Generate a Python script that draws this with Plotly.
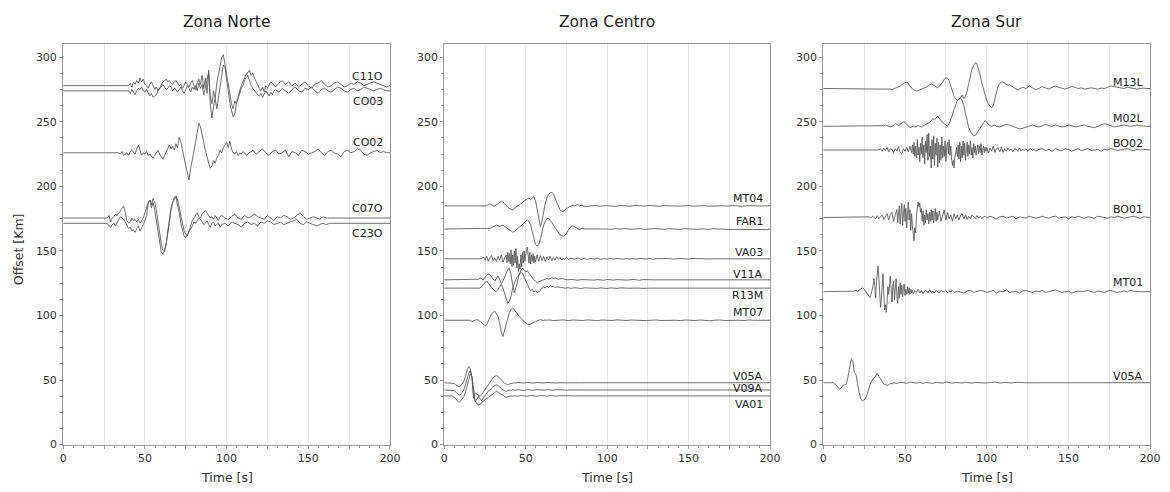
import plotly.graph_objects as go

# ---------------------------------------------------------------
# Record sections: each station is drawn at its offset (km) with the
# seismogram deviation (in km-equivalent units) added on top.
# Each record: base offset, onset time (s) and sampled chunks
# given as (sample step in s, [deviations]).  Before the onset and
# after the last sample the trace stays flat at its offset.
# ---------------------------------------------------------------

ZONE_TITLES = ["Zona Norte", "Zona Centro", "Zona Sur"]
X_TICKS = [0, 25, 50, 75, 100, 125, 150, 175, 200]
X_TICK_TEXT = ["0", "", "50", "", "100", "", "150", "", "200"]
Y_TICKS = [0, 50, 100, 150, 200, 250, 300]

# ---------------- Zona Norte ----------------
C11O_BASE, C11O_ONSET, C11O_LABEL_Y = 278.0, 40, 285
C11O_CHUNKS = [
    (1, [0, 2, -1, 3, 1, 4, 2, 6, 3, 5,
         1, 0, -2, 1, 3, 0, -3, -1, -4, -2,
         1, 3, 4, 5, 3, 4, 2, 1, 3, 4,
         2, 0, 1, -2, 0, 3, 1, -1, 2, 4,
         0, -3, 2, 5, 1, 8, -2, 6, -6, 12,
         -8, -14, -4, -10, 2, 8, 15, 22, 24, 16,
         8, 2, -8, -14, -18, -12, -14, -8, -4, 0,
         3, 6, 9, 10, 12, 8, 10, 6, 3, 0,
         -2, -4, -1, -5, 0, -2, 1, 3, 2, 0]),
    (2, [-1, 2, 4, 1, 3, 0, 2, -1, 1, 3,
         0, -2, 1, 2, 4, 1, -1, 0, 2, 3,
         1, -1, 0, 2, 1, 3, 2, 0, 1, 2,
         3, 2, 1, 0, -1]),
]

CO03_BASE, CO03_ONSET, CO03_LABEL_Y = 274.0, 40, 266
CO03_CHUNKS = [
    (1, [0, -2, 1, -1, -3, 0, 2, 1, 3, 0,
         -1, 1, -2, -4, -2, -5, -4, -3, 0, 2,
         4, 5, 3, 1, 2, 4, 3, 0, 2, 1,
         -1, 1, 3, 0, -2, 1, 4, 2, -1, 3,
         1, 4, 0, 6, 2, 5, -3, 3, 8, 14,
         -10, -21, -12, -6, -14, -6, 4, 12, 20, 18,
         10, 0, -10, -16, -20, -18, -10, -6, -2, 2,
         4, 8, 10, 12, 8, 4, 2, 0, -1, -3,
         -4, -2, -5, -3, 0, -2, -4, -1, -3, 0]),
    (2, [1, -1, 2, 0, -2, 1, 3, 0, -1, 2,
         1, 3, 0, -2, 1, 2, 0, -1, 1, 3,
         2, 0, -1, 1, 2, 0, 1, 3, 2, 1,
         0, 1, 2, 1, 0]),
]

CO02_BASE, CO02_ONSET, CO02_LABEL_Y = 226.0, 34, 234
CO02_CHUNKS = [
    (1, [0, -1, 1, -2, -1, 0, -2, 1, 2, 0,
         -1, 3, 6, 2, -2, 0, -1, 1, -2, -1,
         -3, -4, -2, 0, 2, -1, -3, -5, -2, 1,
         4, 6, 3, 5, 2, 7, 4, 12, 8, 3,
         -4, -10, -16, -21, -12, -6, 2, 8, 16, 23,
         20, 15, 8, 2, -4, -8, -12, -10, -6, -8,
         -4, -2, 2, 0, 4, 6, 8, 4, 9, 3,
         0, -1, 1, -2, 0, -1, 1, 0, -2, -1]),
    (2, [0, 2, -1, 1, 3, 0, -2, 1, 2, -1,
         0, 2, -3, 1, 0, -2, 2, 1, -1, 0,
         1, 3, 0, -2, 1, 2, 0, -1, -3, 1,
         2, 0, 1, 3, 2, -1, -2, 0, 1, 2,
         0, 1, 0]),
]

C07O_BASE, C07O_ONSET, C07O_LABEL_Y = 175.5, 27, 182.5
C07O_CHUNKS = [
    (1, [0, 2, -3, 0, 1, 3, 2, 4, 5, 8,
         9, 4, -2, -4, -3, 0, -2, -1, -3, -1,
         -4, -2, 0, 4, 8, 12, 14, 10, 15, 12,
         6, -4, -12, -20, -25, -26, -20, -10, 0, 8,
         12, 16, 17, 14, 8, 2, -6, -10, -12, -14,
         -10, -6, -2, 0, 2, 4, 1, 0, 3, 5,
         6, 4, 2, 0, 1, -1, 2, 0, -2, 1]),
    (2, [2, 0, -1, 1, 3, 0, -1, 2, 0, 1,
         3, 1, 0, -1, 2, 0, -2, 1, 0, 2,
         1, -1, 0, 2, 4, 1, -1, 0, 1, 0,
         -1, 1, 0, 0]),
]

C23O_BASE, C23O_ONSET, C23O_LABEL_Y = 171.4, 27, 163.7
C23O_CHUNKS = [
    (1, [0, -2, -3, -1, 0, -2, 1, 3, 5, 4,
         3, 1, -2, -4, -3, -6, -5, -7, -4, -2,
         -6, -4, -1, 2, 6, 15, 18, 12, 16, 10,
         2, -8, -16, -22, -24, -21, -16, -6, 2, 10,
         16, 19, 20, 15, 8, 0, -6, -10, -11, -9,
         -6, -4, -2, 1, 0, 2, 4, 3, 1, -1,
         0, 2, -1, -3, 0, 1, -2, -1, 0, -3]),
    (2, [-1, 0, -2, 1, 0, -1, -3, 0, 1, -1,
         0, -2, 1, 0, 2, 1, -1, 0, 1, -1,
         0, 1, 2, 3, 0, -1, 1, 0, -1, -2,
         -1, 0, -1, 0, 0, 0]),
]

# ---------------- Zona Centro ----------------
MT04_BASE, MT04_ONSET, MT04_LABEL_Y = 184.9, 24, 190.5
MT04_CHUNKS = [
    (1, [0, 0.5, 0, 1, 1.5, 1, 0, 0, 1, 2,
         3, 3.5, 3, 1.5, 0, -1, -2, -2.5, -3, -2,
         -1, 0, 1, 2, 3, 4, 5, 5.5, 6, 5,
         6, 7, 4, -2, -10, -16, -12, -4, 2, 6,
         9, 10, 10.5, 9, 6, 2, -1, -3, -4, -4.5,
         -3, -2, -1, -0.5, 0, 0.5, 0, 0.5, 1, 0]),
    (3, [0.5, -0.5, 0, 0.3, -0.3, 0.2, 0, -0.4, 0.3, 0,
         -0.3, 0.4, 0, -0.2, 0.3, 0, -0.3, 0.2, 0, 0.3,
         -0.2, 0, 0.3, -0.3, 0, 0.2, -0.2, 0, 0.3, 0,
         -0.2, 0.2, 0, -0.3, 0.2, 0, 0.2, -0.1, 0]),
]

FAR1_BASE, FAR1_ONSET, FAR1_LABEL_Y = 167.0, 27, 172.6
FAR1_CHUNKS = [
    (1, [0, 0.5, 1, 2, 2.5, 3, 2.5, 2, 2.5, 3,
         2, 1, 0, -1, -2, -2.5, -2, -1, 0, 1,
         2, 3, 4.5, 6, 7, 6, 3, -2, -8, -12,
         -13, -12, -8, -2, 3, 6, 8, 8.5, 7, 5,
         3, 1, -1, -3, -4.5, -5, -5.5, -5, -3.5, -1,
         0.5, 2, 2.5, 2, 1, 0, -0.5, 0, 0.5, 0]),
    (3, [0, 0.3, -0.2, 0.2, 0, -0.3, 0.2, 0, 0.3, -0.2,
         0, 0.2, -0.3, 0, 0.3, 0, -0.2, 0.2, 0, -0.3,
         0.2, 0, 0.3, -0.2, 0, -0.3, 0.2, 0, -0.4, -0.6,
         -0.5, -0.3, -0.5, -0.4, -0.5, -0.4, -0.5, -0.5]),
]

VA03_BASE, VA03_ONSET, VA03_LABEL_Y = 143.9, 23, 149
VA03_CHUNKS = [
    (1, [0, 1.5, -1, 2, -2, 1, 2.5, -1.5, 0.5, -2, 2, -1, 3, -2.5, 1]),
    (0.5, [3, -3, 5, -2, 4, -4, 7, -6, 3, -5,
           6, -3, 8, -7, 2, -10, -4, -8, 3, -6,
           5, -3, 6, -2, 4, 7, 9, 2, -3, 5,
           -4, 3, -2, 4, -3, 2]),
    (1, [-2.5, 3, -2, 2.5, -1.5, 2, -2, 1.5, -1, 2,
         -1.5, 1, -1, 1.5, -0.5, 1, -1, 0.5, -0.5, 1]),
    (2, [-0.5, 0.5, -0.3, 0.6, -0.4, 0.3, -0.5, 0.4, -0.2, 0.5,
         -0.4, 0.2, -0.3, 0.4, -0.2, 0.3, 0, -0.3, 0.3, -0.2,
         0.2, -0.3, 0.4, 0, -0.2, 0.3, -0.3, 0.1, 0.2, -0.2,
         0, 0.3, -0.2, 0.1, -0.1, 0.2, 0, -0.2, 0.2, 0,
         -0.1, 0.1, 0, 0.2, -0.1, 0, 0.1, -0.1, 0, 0.1,
         0, -0.1, 0.1, 0, 0, 0.1, -0.1, 0, 0, 0, 0, 0]),
]

V11A_BASE, V11A_ONSET, V11A_LABEL_Y = 127.6, 20, 132
V11A_CHUNKS = [
    (1, [0, 0.5, 1.5, 1, 0, 2, 3.5, 4.5, 4, 2,
         0, -1, 1, 3, 0, -3, -1, 2, 5, 8,
         9, 4, -4, -10, -6, 0, 4, 7, 9, 8,
         6, 7, 5, 4, 2, 0, -1, -2, -1.5, -1,
         -0.5, 0, 0.5, 1, 0.5, 1, 1.5, 1, 1.5, 1]),
    (2, [0.5, 1, 0.5, 0, 0.3, 0, -0.3, 0.2, 0, 0.3,
         0, -0.2, 0.2, 0, -0.3, 0.3, 0, -0.2, 0.2, 0,
         0.2, -0.2, 0, 0.3, 0, -0.3, 0.2, 0, 0.1, 0]),
]

R13M_BASE, R13M_ONSET, R13M_LABEL_Y = 121.2, 20, 115.4
R13M_CHUNKS = [
    (1, [0, 0.5, 0, 1.5, 3, 4.5, 5.5, 4, 2, 0,
         -1, -2, -2.5, -1, 1, 3, 0, -4, -8, -12,
         -10, -6, 0, 4, 7, 9, 11, 12, 11.5, 9,
         6, 3, 0, -2, -1, -3, -2, -3.5, -3, -1,
         0, 1, 0, 1.5, 0.5, 2, 1, 1.5, 0.5, 1]),
    (2, [1, 0.5, 0, 0.3, -0.2, 0.3, 0, -0.3, 0.2, 0,
         0.3, 0, -0.2, 0.2, 0, -0.3, 0.2, 0, -0.2, 0.2,
         0, 0.2, -0.1, 0, 0.2, 0, -0.2, 0.1, 0, 0]),
]

MT07_BASE, MT07_ONSET, MT07_LABEL_Y = 96.3, 14, 102
MT07_CHUNKS = [
    (1, [0, -0.5, 0, -1, -0.5, 0, 0.5, 0, -1, -2,
         -3, -4, -3.5, -1, 2, 5, 6, 7, 5, 3,
         -2, -9, -12.5, -8, -2, 3, 6, 8.5, 9.5, 8,
         6, 4.5, 3, 1.5, 0, -1, -2, -3, -3.5, -3,
         -2, -1.5, -1, -0.5, 0, 0.5, 0, -0.3, 0.3, 0]),
    (3, [0.3, -0.2, 0, 0.3, -0.3, 0.2, 0, -0.2, 0.3, 0,
         -0.3, 0.2, 0, -0.2, 0.3, 0, -0.2, 0.2, 0, 0.3,
         -0.3, 0, 0.2, -0.2, 0, 0.3, 0, -0.3, 0.2, 0,
         -0.2, 0.2, 0, -0.4, 0, 0.2, -0.2, 0, 0.3, 0,
         -0.2, 0.2, 0, 0]),
]

V05A_C_BASE, V05A_C_ONSET, V05A_C_LABEL_Y = 47.9, 5, 52.5
V05A_C_CHUNKS = [
    (1, [0, -0.5, -1.5, -2.5, -3, -2.5, -1, 1, 5, 10,
         12.5, 11, 3, -12, -8, -9, -10, -10.5, -9, -7,
         -5, -3, -1, 1, 2.5, 4, 5, 5.5, 5, 3.5,
         2, 0.5, -0.5, -1, -1.5, -1, -0.5, -0.5, 0, -0.3]),
    (2, [0.3, 0, -0.2, 0.3, 0, -0.3, 0.2, 0, -0.2, 0.2,
         0, 0.2, -0.2, 0, 0.2, -0.1, 0, 0.1, 0, 0]),
]

V09A_BASE, V09A_ONSET, V09A_LABEL_Y = 42.3, 5, 43.3
V09A_CHUNKS = [
    (1, [0, -0.5, -1.5, -3, -4, -3.5, -2, 0, 4, 9,
         13, 15, 10, -4, -9, -7, -5, -7, -8, -6,
         -4, -2.5, -1, 0, 1.5, 2.5, 3.5, 4, 3.5, 2,
         1, 0, -0.5, -1, -0.5, 0, -0.3, 0.2, 0, -0.2]),
    (2, [0.2, 0, -0.3, 0.2, 0, -0.2, 0.3, 0, -0.2, 0.2,
         0, -0.2, 0.2, 0, 0.1, -0.1, 0, 0.1, 0, 0]),
]

VA01_BASE, VA01_ONSET, VA01_LABEL_Y = 37.7, 5, 31.3
VA01_CHUNKS = [
    (1, [0, -1, -2.5, -4, -5, -4, -2.5, -0.5, 3, 8,
         12, 17, 15, 5, -4, -6, -7, -6.5, -5, -4,
         -3, -2, -1, 0, 1, 2, 3, 3.5, 3, 2,
         1, 0, -0.5, -1, -0.5, -0.3, 0, -0.3, 0.3, 0]),
    (2, [-0.3, 0.3, 0, -0.3, 0.4, 0, -0.3, 0.3, 0, -0.2,
         0.3, 0, -0.2, 0.2, 0, -0.2, 0.1, 0, 0, 0,
         0.2, -0.2, 0, 0.2, 0, -0.1, 0.1, 0, 0, 0]),
]

# ---------------- Zona Sur ----------------
M13L_BASE, M13L_ONSET, M13L_LABEL_Y = 275.8, 40, 280.4
M13L_CHUNKS = [
    (1, [0, -0.5, -1, -0.5, 0, 0.5, 1, 2, 3, 4,
         4.5, 5, 4, 2, 0, -1, -1.5, -2, -1.5, -1,
         -1, -0.5, 0, 1, 2, 3, 3.5, 3, 2, 1,
         0.5, 1.5, 3, 5, 7, 8.5, 8, 6, 2, -3,
         -6, -8, -9, -8, -7, -5, -8, -6, -2, 4,
         10, 15, 18, 20, 19, 15, 10, 4, -1, -5,
         -9, -12, -14, -15, -13, -8, -2, 2, 4, 5,
         5, 4, 3.5, 2.5, 3, 2, 1, 0.5, -0.5, -1]),
    (2, [-0.5, 1, 0, 2, 0.5, -1, 0, 1.5, 0.5, -0.5,
         1, 2, 1, 0, -0.5, 0.5, 1.5, 1, 0, 0.5,
         -0.5, 0, 0.5, 0, -0.5, 0.3, 0, 1, 2, 1.5,
         1, 0.5, 0, 1, 0.5, 0, -0.5, 0, 0.3, 0]),
]

M02L_BASE, M02L_ONSET, M02L_LABEL_Y = 246.5, 36, 252.3
M02L_CHUNKS = [
    (1, [0, 0.5, 1, 0.5, 0, -0.5, 0, 1, 2, 1.5,
         0.5, 1.5, 2.5, 3.5, 3, 1.5, 0, -1, -0.5, 0,
         -0.5, 0, 0.5, 0, -0.5, 0.5, 1, 2, 2.5, 3,
         4, 6, 5, 7, 8, 6, 4, 3, 2, 1,
         0, 2, 5, 9, 13, 17, 20, 21, 21.5, 20,
         16, 10, 4, -1, -4, -6, -7.5, -7, -5, -3,
         -1, 1, 3.5, 4.5, 3, 1.5, 0.5, 0, 0.5, 1]),
    (2, [0, -0.5, 0.5, 1.5, 1, 0, -1, -2, -1.5, -0.5,
         0.5, 1, 0, -0.5, 0.5, 1.5, 0.5, 0, 1, 0.5,
         -0.5, 0, 1, 0.5, -0.5, 0, 0.5, 1, 0, -0.5,
         -1, 0, 1, 2, 1.5, 0.5, -0.5, 0, 0.5, 1,
         0.5, 0, 0.5, 1, 0.5, 0, 0]),
]

BO02_BASE, BO02_ONSET, BO02_LABEL_Y = 228.2, 34, 233.2
BO02_CHUNKS = [
    (1, [0, 1, -1, 1.5, -0.5, 2, -1.5, 1, 0.5, -2,
         1, -1, 2.5, -2, -3, 1, -1, 2, -1.5, 3]),
    (0.5, [-2, 4, -3, 6, -5, 3, -6, 8, -4, 2,
           -9, 5, -3, 10, -6, 4, -11, 7, -2, 12,
           -8, 13, -5, 3, -14, 8, -7, 11, -12, 5,
           -4, 9, -13, 6, -10, 4, -8, 10, -6, 3,
           -5, 7, -9, 2, 6, -3, 8, -4, 3, -7,
           -12, -8, -14, -6, -3, 2, -5, 4, -7, 6,
           -9, 3, -6, 7, -4, 5, -8, 2, 6, -5,
           4, -3, 7, -4, 2, -6, 5, -2, 3, -4,
           2, 4, -3, 3, -2, 5, -4, 1, 3, -2,
           2, -1]),
    (1, [2, -2.5, 1.5, -1, 3, -2, 1, 2, -1.5, 2.5,
         -2, 1, -1, 1.5, -0.5, 1, -1.5, 1, 0.5, -1,
         1.5, -1, 0.5, -0.5, 1, -1, 0.5, 1, -0.5, 0.5]),
    (2, [-1, 0.5, 1, -0.5, 0.5, -1, 1, 0, -0.5, 1,
         0.5, -1, 0, 1, -0.5, 0.5, 1, -0.5, 0, 0.5,
         -1, 0.5, 0, 1, 0.5, -0.5, 0, 0.5, 1, 0,
         -0.5, 0.5, 0, 0.5, 0]),
]

BO01_BASE, BO01_ONSET, BO01_LABEL_Y = 175.9, 27, 182.3
BO01_CHUNKS = [
    (1, [0, 0.5, -0.5, 1, 0, -1, 1.5, -1, 0.5, 2,
         -1.5, 1, 3, -2, 2.5, 4, -3, 2]),
    (0.5, [6, -4, 3, 9, -5, 2, 11, -6, 4, 10,
           -3, 7, -8, 5, 12, -2, 6, -10, 3, -6,
           -14, -18, -8, -12, 2, 10, 12, 8, 11, 4,
           7, -3, 5, -6, 2, -4, 6, -2, 3, -5,
           4, -3, 6, -2, 5, -4, 3, 7, -3, 4]),
    (1, [-2, 5, -3, 2, 6, -2, 4, -1, 2, -3,
         3, -1, 2, -2, 1.5, 3, -1, 2, -1.5, 1,
         -1, 2, 0.5, -1, 1.5, -0.5, 1, -1, 0.5, 1]),
    (2, [-0.5, 1, 0, -1, 0.5, 1, -0.5, 0, 1, -1,
         0.5, 0, -0.5, 1, 0.5, -0.5, 0, 1, 0, -0.5,
         0.5, 1, -0.5, 0, 0.5, -1, 0.5, 0, 1, 0,
         -0.5, 0.5, 0, -0.5, 1, 0.5, 0, -0.5, 0.5, 0,
         1, 0.5, -0.5, 0, 0.5, 1, 0, -0.5, 0.5, 0]),
]

MT01_BASE, MT01_ONSET, MT01_LABEL_Y = 118.4, 18, 125.5
MT01_CHUNKS = [
    (1, [0, 0.5, 1, 0, 1.5, 2.5, 3, 2, 0, -2]),
    (0.5, [-3, -4.5, -3, -1, 2, 6, 10, 4, -5, 8,
           16, 20, 10, -4, -12, -6, 8, 14, -2, -14,
           -10, -16, -8, 4, -2, 10, 12, 2, -8, 4,
           8, -6, 3, 10, -3, -9, 4, -5, 7, -2,
           5, -4, 3, 6, -3, 2, -2, 4, -1, 3,
           -2, 2, -1, 1]),
    (1, [-1.5, 1, -0.5, 2, -1, 1, -1.5, 0.5, 1, -1,
         1.5, -0.5, 0.5, -1, 1, 0, -1, 1, 0.5, -0.5,
         1, -1, 0.5, 0, 1]),
    (2, [-0.5, 0.5, 0, -1, 0.5, 1, -0.5, 0, 1, 0.5,
         -0.5, 0, 1, -1, 0.5, 0, 1.5, -0.5, 0, 0.5,
         -1, 0.5, 1, 0, -0.5, 0.5, 0, 1, -0.5, 0,
         0.5, 1.5, 0.5, -0.5, 0, 0.5, -1, 0, 0.5, 0,
         0.5, 1, 0, -0.5, 0.5, 0, -0.5, 0.5, 1, 0,
         -0.5, 0, 0.5, 0, 1, 0.5, 0, 0, 0, 0]),
]

V05A_S_BASE, V05A_S_ONSET, V05A_S_LABEL_Y = 47.9, 6, 53
V05A_S_CHUNKS = [
    (1, [0, -1, -2.5, -4, -5, -4, -2, -1.5, -1, 4,
         12, 18, 17, 8, 6, -2, -8, -13, -14, -13,
         -12, -8, -3, 0, 2, 4, 6, 7, 5, 3,
         1, -1, -1.5, -2, -1.5, -0.5, -1]),
    (2, [0, -0.5, 0.3, 0, -0.5, 0.5, 0, -0.3, 0.3, -0.5,
         0.2, 0, -0.5, 0.3, 0, -0.3, 0.5, 0, -0.3, 0.2,
         0, -0.2, 0.3, 0, -0.3, 0.2, 0, 0.3, -0.2, 0,
         0.3, 0.5, 0, -0.2, 0.3, 0, -0.2, 0.2, 0.4, 0.3,
         0, 0.1, 0, 0, 0]),
]

# (zone index, station name, base, onset, chunks, label height)
STATIONS = [
    (0, "C11O", C11O_BASE, C11O_ONSET, C11O_CHUNKS, C11O_LABEL_Y),
    (0, "CO03", CO03_BASE, CO03_ONSET, CO03_CHUNKS, CO03_LABEL_Y),
    (0, "CO02", CO02_BASE, CO02_ONSET, CO02_CHUNKS, CO02_LABEL_Y),
    (0, "C07O", C07O_BASE, C07O_ONSET, C07O_CHUNKS, C07O_LABEL_Y),
    (0, "C23O", C23O_BASE, C23O_ONSET, C23O_CHUNKS, C23O_LABEL_Y),
    (1, "MT04", MT04_BASE, MT04_ONSET, MT04_CHUNKS, MT04_LABEL_Y),
    (1, "FAR1", FAR1_BASE, FAR1_ONSET, FAR1_CHUNKS, FAR1_LABEL_Y),
    (1, "VA03", VA03_BASE, VA03_ONSET, VA03_CHUNKS, VA03_LABEL_Y),
    (1, "V11A", V11A_BASE, V11A_ONSET, V11A_CHUNKS, V11A_LABEL_Y),
    (1, "R13M", R13M_BASE, R13M_ONSET, R13M_CHUNKS, R13M_LABEL_Y),
    (1, "MT07", MT07_BASE, MT07_ONSET, MT07_CHUNKS, MT07_LABEL_Y),
    (1, "V05A", V05A_C_BASE, V05A_C_ONSET, V05A_C_CHUNKS, V05A_C_LABEL_Y),
    (1, "V09A", V09A_BASE, V09A_ONSET, V09A_CHUNKS, V09A_LABEL_Y),
    (1, "VA01", VA01_BASE, VA01_ONSET, VA01_CHUNKS, VA01_LABEL_Y),
    (2, "M13L", M13L_BASE, M13L_ONSET, M13L_CHUNKS, M13L_LABEL_Y),
    (2, "M02L", M02L_BASE, M02L_ONSET, M02L_CHUNKS, M02L_LABEL_Y),
    (2, "BO02", BO02_BASE, BO02_ONSET, BO02_CHUNKS, BO02_LABEL_Y),
    (2, "BO01", BO01_BASE, BO01_ONSET, BO01_CHUNKS, BO01_LABEL_Y),
    (2, "MT01", MT01_BASE, MT01_ONSET, MT01_CHUNKS, MT01_LABEL_Y),
    (2, "V05A", V05A_S_BASE, V05A_S_ONSET, V05A_S_CHUNKS, V05A_S_LABEL_Y),
]

T_MAX = 200.0


def record_xy(base, onset, chunks):
    """Flat line up to the onset, the sampled chunks, then flat to T_MAX."""
    ts, ys = [0.0], [base]
    t = float(onset)
    for step, values in chunks:
        for v in values:
            ts.append(t)
            ys.append(base + v)
            t += step
    if ts[-1] < T_MAX:
        ts.append(T_MAX)
        ys.append(base)
    return ts, ys


# panel placement in paper coordinates (figure 1170 x 492)
W, H = 1170.0, 492.0
X_DOMAINS = [(60 / W, 391 / W), (446 / W, 776 / W), (830 / W, 1161 / W)]
Y_DOMAIN = ((H - 451) / H, (H - 45) / H)

FONT = "DejaVu Sans, Verdana, sans-serif"
TRACE_COLOR = "#555555"
FRAME_COLOR = "#9a9a9a"

fig = go.Figure()

for zone, name, base, onset, chunks, label_y in STATIONS:
    ts, ys = record_xy(base, onset, chunks)
    suffix = "" if zone == 0 else str(zone + 1)
    fig.add_trace(go.Scatter(
        x=ts, y=ys, mode="lines", name=name,
        line=dict(color=TRACE_COLOR, width=0.85),
        xaxis="x" + suffix, yaxis="y" + suffix,
        hoverinfo="skip", showlegend=False,
    ))
    fig.add_annotation(
        x=197, y=label_y, xref="x" + suffix, yref="y" + suffix,
        text=name, showarrow=False, xanchor="right", yanchor="middle",
        font=dict(family=FONT, size=11, color="#222222"),
    )

layout = dict(
    width=1170, height=492,
    margin=dict(l=0, r=0, t=0, b=0),
    paper_bgcolor="white", plot_bgcolor="white",
    font=dict(family=FONT, size=11, color="#333333"),
    showlegend=False,
)

for i in range(3):
    suffix = "" if i == 0 else str(i + 1)
    layout["xaxis" + suffix] = dict(
        domain=list(X_DOMAINS[i]), anchor="y" + suffix,
        range=[0, T_MAX], tickmode="array",
        tickvals=X_TICKS, ticktext=X_TICK_TEXT,
        ticks="outside", ticklen=3, tickcolor=FRAME_COLOR, tickwidth=1,
        showline=True, mirror=True, linecolor=FRAME_COLOR, linewidth=1.3,
        showgrid=True, gridcolor="#e8e8e8", gridwidth=1, zeroline=False,
        minor=dict(dtick=6.25, ticks="outside", ticklen=2,
                   tickcolor=FRAME_COLOR, showgrid=False),
        tickfont=dict(family=FONT, size=11, color="#333333"),
        fixedrange=True,
    )
    layout["yaxis" + suffix] = dict(
        domain=list(Y_DOMAIN), anchor="x" + suffix,
        range=[0, 310], tickmode="array", tickvals=Y_TICKS,
        ticks="outside", ticklen=3, tickcolor=FRAME_COLOR, tickwidth=1,
        showline=True, mirror=True, linecolor=FRAME_COLOR, linewidth=1.3,
        showgrid=False, zeroline=False,
        minor=dict(dtick=12.5, ticks="outside", ticklen=2,
                   tickcolor=FRAME_COLOR, showgrid=False),
        tickfont=dict(family=FONT, size=11, color="#333333"),
        fixedrange=True,
    )

fig.update_layout(**layout)

# panel titles and axis captions
for i, title in enumerate(ZONE_TITLES):
    cx = (X_DOMAINS[i][0] + X_DOMAINS[i][1]) / 2
    fig.add_annotation(
        x=cx, y=(H - 22) / H, xref="paper", yref="paper", text=title,
        showarrow=False, xanchor="center", yanchor="middle",
        font=dict(family=FONT, size=15.5, color="#222222"),
    )
    fig.add_annotation(
        x=cx, y=(H - 484) / H, xref="paper", yref="paper", text="Time [s]",
        showarrow=False, xanchor="center", yanchor="middle",
        font=dict(family=FONT, size=12.5, color="#333333"),
    )

fig.add_annotation(
    x=15 / W, y=(H - 253) / H, xref="paper", yref="paper", text="Offset [Km]",
    showarrow=False, textangle=-90, xanchor="center", yanchor="middle",
    font=dict(family=FONT, size=12.5, color="#333333"),
)

fig.write_html("out.html")
